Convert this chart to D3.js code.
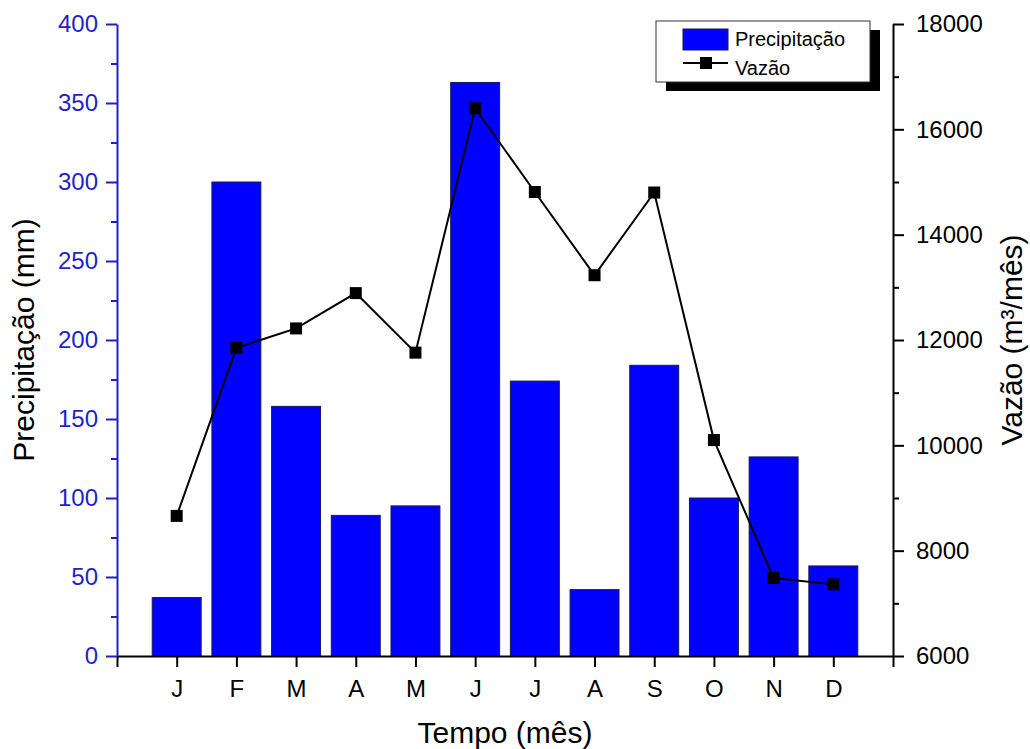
<!DOCTYPE html>
<html>
<head>
<meta charset="utf-8">
<script src="https://cdn.jsdelivr.net/npm/d3@7"></script>
<style>
  body { margin: 0; background: #FFFFFF; }
  svg { display: block; font-family: "Liberation Sans", Arial, sans-serif; }
</style>
</head>
<body>
<svg width="1030" height="749"></svg>
<script>
//--Data
const months = ["J", "F", "M", "A", "M", "J", "J", "A", "S", "O", "N", "D"];
const precipitacao = [37, 300, 158, 89, 95, 363, 174, 42, 184, 100, 126, 57];
const vazao = [8660, 11850, 12220, 12890, 11760, 16400, 14810, 13230, 14800, 10100, 7480, 7360];
const leftTicks = [0, 50, 100, 150, 200, 250, 300, 350, 400];
const rightTicks = [6000, 8000, 10000, 12000, 14000, 16000, 18000];

//--Canvas
const canvas = {
  left: 117,
  right: 893,
  top: 24,
  bottom: 656,
  blue: "#1f1fcc",
  barFill: "#0000FF",
  tickFont: "24px"
};

const x = d3.scaleLinear().domain([0, 13]).range([canvas.left, canvas.right]);
const yL = d3.scaleLinear().domain([0, 400]).range([canvas.bottom, canvas.top]);
const yR = d3.scaleLinear().domain([6000, 18000]).range([canvas.bottom, canvas.top]);
const barW = (x(1) - x(0)) * 0.82;

let root = d3.select("svg");

//--Bars
root.append("g")
  .selectAll("rect")
  .data(precipitacao)
  .enter()
  .append("rect")
  .attr("x", (d, i) => x(i + 1) - barW / 2)
  .attr("y", d => yL(d))
  .attr("width", barW)
  .attr("height", d => yL(0) - yL(d))
  .attr("fill", canvas.barFill)
  .attr("stroke", "#1a1a55")
  .attr("stroke-width", 1);

//--Bottom axis
let gx = root.append("g")
  .attr("transform", "translate(0," + canvas.bottom + ")")
  .call(d3.axisBottom(x)
    .tickValues(d3.range(0, 14))
    .tickFormat(i => (i >= 1 && i <= 12) ? months[i - 1] : "")
    .tickSize(11)
    .tickSizeOuter(0)
    .tickPadding(13));
gx.select(".domain").attr("stroke", "#000").attr("stroke-width", 2);
gx.selectAll(".tick line").attr("stroke", "#000").attr("stroke-width", 2);
gx.selectAll("text").attr("fill", "#000").style("font-size", canvas.tickFont).style("font-family", "inherit");

//--Left axis (blue)
let gl = root.append("g")
  .attr("transform", "translate(" + canvas.left + ",0)")
  .call(d3.axisLeft(yL)
    .tickValues(leftTicks)
    .tickSize(11)
    .tickSizeOuter(0)
    .tickPadding(8));
gl.append("g").call(d3.axisLeft(yL)
  .tickValues(d3.range(25, 400, 50))
  .tickFormat("")
  .tickSize(6)
  .tickSizeOuter(0))
  .select(".domain").remove();
gl.selectAll(".domain").attr("stroke", canvas.blue).attr("stroke-width", 2);
gl.selectAll(".tick line").attr("stroke", canvas.blue).attr("stroke-width", 2);
gl.selectAll("text").attr("fill", canvas.blue).style("font-size", canvas.tickFont).style("font-family", "inherit");

//--Right axis
let gr = root.append("g")
  .attr("transform", "translate(" + canvas.right + ",0)")
  .call(d3.axisRight(yR)
    .tickValues(rightTicks)
    .tickFormat(d3.format("d"))
    .tickSize(11)
    .tickSizeOuter(0)
    .tickPadding(12));
gr.append("g").call(d3.axisRight(yR)
  .tickValues(d3.range(7000, 18000, 2000))
  .tickFormat("")
  .tickSize(6)
  .tickSizeOuter(0))
  .select(".domain").remove();
gr.selectAll(".domain").attr("stroke", "#000").attr("stroke-width", 2);
gr.selectAll(".tick line").attr("stroke", "#000").attr("stroke-width", 2);
gr.selectAll("text").attr("fill", "#000").style("font-size", canvas.tickFont).style("font-family", "inherit");

//--Line + markers
root.append("path")
  .datum(vazao)
  .attr("fill", "none")
  .attr("stroke", "#000")
  .attr("stroke-width", 2)
  .attr("d", d3.line().x((d, i) => x(i + 1)).y(d => yR(d)));
root.append("g")
  .selectAll("rect")
  .data(vazao)
  .enter()
  .append("rect")
  .attr("x", (d, i) => x(i + 1) - 6)
  .attr("y", d => yR(d) - 6)
  .attr("width", 12)
  .attr("height", 12)
  .attr("fill", "#000");

//--Axis titles
root.append("text")
  .attr("transform", "translate(34," + (canvas.top + canvas.bottom) / 2 + ")rotate(-90)")
  .attr("text-anchor", "middle")
  .style("font-size", "30px")
  .text("Precipitação (mm)");
root.append("text")
  .attr("transform", "translate(1022," + (canvas.top + canvas.bottom) / 2 + ")rotate(-90)")
  .attr("text-anchor", "middle")
  .style("font-size", "30px")
  .text("Vazão (m³/mês)");
root.append("text")
  .attr("x", (canvas.left + canvas.right) / 2)
  .attr("y", 743)
  .attr("text-anchor", "middle")
  .style("font-size", "30px")
  .text("Tempo (mês)");

//--Legend
let legend = root.append("g").attr("transform", "translate(656,21)");
legend.append("rect")
  .attr("x", 10).attr("y", 9)
  .attr("width", 214).attr("height", 61)
  .attr("fill", "#000");
legend.append("rect")
  .attr("width", 214).attr("height", 61)
  .attr("fill", "#FFFFFF")
  .attr("stroke", "#333")
  .attr("stroke-width", 1);
legend.append("rect")
  .attr("x", 27).attr("y", 8)
  .attr("width", 45).attr("height", 21)
  .attr("fill", canvas.barFill)
  .attr("stroke", "#1a1a55");
legend.append("text")
  .attr("x", 79).attr("y", 25)
  .style("font-size", "20px")
  .text("Precipitação");
legend.append("line")
  .attr("x1", 27).attr("x2", 72)
  .attr("y1", 42).attr("y2", 42)
  .attr("stroke", "#000").attr("stroke-width", 2);
legend.append("rect")
  .attr("x", 44).attr("y", 36)
  .attr("width", 12).attr("height", 12)
  .attr("fill", "#000");
legend.append("text")
  .attr("x", 79).attr("y", 54)
  .style("font-size", "20px")
  .text("Vazão");
</script>
</body>
</html>
